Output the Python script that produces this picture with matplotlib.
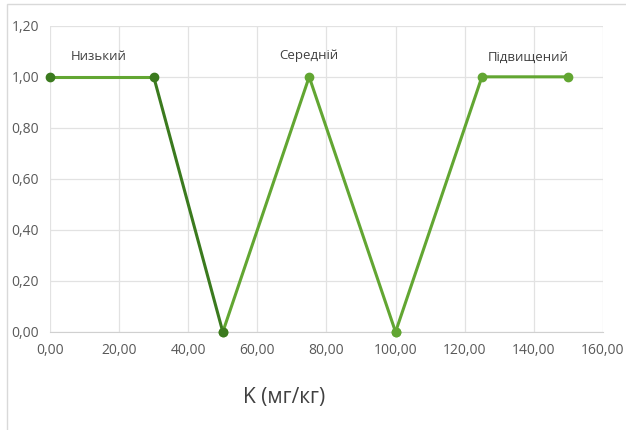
import matplotlib
matplotlib.use("Agg")
from matplotlib import pyplot as plt
from matplotlib.patches import Rectangle

plt.rcParams['font.family'] = ['Open Sans', 'DejaVu Sans']

# membership functions
low_x = [0, 30, 50]
low_y = [1, 1, 0]
mid_x = [50, 75, 100]
mid_y = [0, 1, 0]
high_x = [100, 125, 150]
high_y = [0, 1, 1]

labels = ['Низький', 'Середній', 'Підвищений']
label_x = [14, 75, 138.5]
label_y = [1.08, 1.085, 1.075]

xticks = [0, 20, 40, 60, 80, 100, 120, 140, 160]
yticks = [0, 0.2, 0.4, 0.6, 0.8, 1.0, 1.2]

dark = '#3b7a1e'
light = '#62a632'

fig = plt.figure(figsize=(6.26, 4.3), dpi=100)
ax = fig.add_axes([0.08, 0.228, 0.883, 0.712])

fig.patches.append(Rectangle((7 / 626, -0.01), 1.0, 1 - 4 / 430 + 0.01,
                             transform=fig.transFigure, fill=False,
                             edgecolor='#d9d9d9', linewidth=1))

ax.plot(low_x[:2], low_y[:2], '-', color=light, lw=2.2, zorder=3, clip_on=False)
ax.plot(low_x[1:], low_y[1:], '-', color=dark, lw=2.2, zorder=3, clip_on=False)
ax.plot(low_x, low_y, 'o', color=dark, ms=6, zorder=4, clip_on=False)
ax.plot(mid_x, mid_y, '-o', color=light, lw=2.2, ms=6, zorder=3, clip_on=False)
ax.plot(high_x, high_y, '-o', color=light, lw=2.2, ms=6, zorder=3, clip_on=False)

for t, x, y in zip(labels, label_x, label_y):
    ax.text(x, y, t, ha='center', va='center', fontsize=9.5, color='#404040')

ax.set_xlim(0, 160)
ax.set_ylim(0, 1.2)
ax.set_xticks(xticks)
ax.set_yticks(yticks)
ax.set_yticklabels([('%.2f' % v).replace('.', ',') for v in yticks])
ax.set_xticklabels([('%.2f' % v).replace('.', ',') for v in xticks])
ax.tick_params(length=0, labelsize=10, colors='#595959', pad=8)
ax.grid(True, color='#e2e2e2', lw=0.9)
ax.set_axisbelow(True)
for s in ['top', 'right', 'left']:
    ax.spines[s].set_visible(False)
ax.spines['bottom'].set_color('#d0d0d0')

fig.text(284 / 626, 1 - 397 / 430, 'K (мг/кг)', ha='center', va='center',
         fontsize=15, color='#404040')

fig.savefig('out.png', dpi=100)
